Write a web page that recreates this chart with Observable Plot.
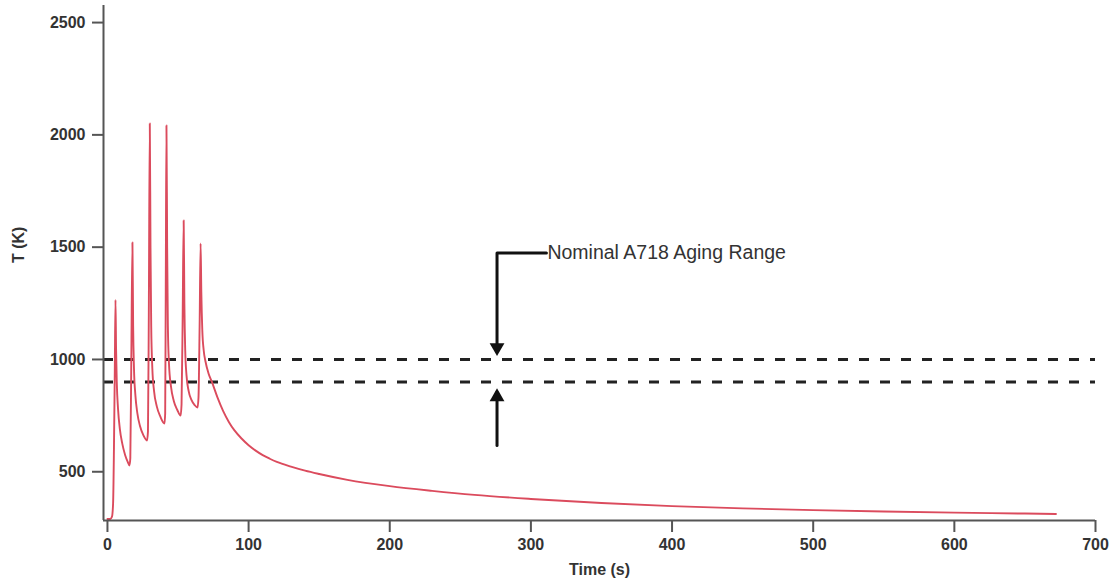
<!DOCTYPE html>
<html>
<head>
<meta charset="utf-8">
<script src="https://cdn.jsdelivr.net/npm/d3@7"></script>
<script src="https://cdn.jsdelivr.net/npm/@observablehq/plot@0.6"></script>
<style>
  html, body { margin: 0; padding: 0; background: #fff; }
  #chart { width: 1110px; height: 583px; }
</style>
</head>
<body>
<div id="chart"></div>
<script>
// Time (s)
const times = [
  0, 2, 3.2, 4.0, 4.6, 5.2, 5.7, 6.1, 6.6, 7.5, 8.8, 10.5, 12.5, 14.5, 15.6,
  16.2, 16.9, 17.7, 18.2, 18.8, 19.8, 21.2, 23, 25.5, 28,
  28.7, 29.3, 30, 30.5, 31, 31.8, 33, 35, 37.5, 40.4,
  40.9, 41.3, 41.8, 42.3, 42.8, 43.6, 45, 47, 49.5, 51.8,
  52.5, 53.3, 54, 54.5, 55.1, 56, 57.5, 59.5, 61.8, 63.8,
  64.5, 65.3, 66, 66.5, 67.2, 68.2, 69.5, 71.5, 74, 78, 82, 86, 90, 95,
  100, 105, 110, 115, 120, 130, 140, 150, 170, 200, 230, 260, 300, 350, 400, 450,
  500, 550, 600, 650, 672
];
// Temperature T (K)
const temps = [
  290, 290, 300, 360, 600, 950, 1265, 1050, 900, 780, 690, 625, 575, 542, 528,
  560, 1000, 1521, 1150, 960, 840, 760, 705, 662, 639,
  680, 1200, 2051, 1500, 1150, 960, 860, 790, 745, 715,
  760, 1300, 2042, 1500, 1150, 980, 880, 815, 775, 750,
  800, 1200, 1619, 1250, 1040, 930, 860, 820, 797, 786,
  830, 1150, 1516, 1300, 1130, 1040, 990, 940, 900, 830, 770, 722, 684, 648,
  618, 594, 574, 558, 544, 523, 505, 490, 464, 436, 415, 397, 379, 361, 347, 337,
  329, 323, 318, 314, 312
];

const xTicks = [0, 100, 200, 300, 400, 500, 600, 700];
const yTicks = [500, 1000, 1500, 2000, 2500];

const rangeHigh = 1000;   // upper bound of aging range
const rangeLow = 900;     // lower bound of aging range
const annotationText = "Nominal A718 Aging Range";
const annotationTime = 276;
const annotationLabelTime = 311;
const annotationTop = 1474;
const annotationBottom = 617;

const xLabel = "Time (s)";
const yLabel = "T (K)";

const data = times.map((t, i) => ({t, T: temps[i]}));

const font = "'Liberation Sans', Arial, sans-serif";
const axisColor = "#555";
const textColor = "#333";

const chart = Plot.plot({
  width: 1110,
  height: 583,
  marginLeft: 103,
  marginRight: 15,
  marginTop: 5,
  marginBottom: 63,
  style: {fontFamily: font, background: "#fff"},
  x: {domain: [-2.8, 700], label: null},
  y: {domain: [283, 2576], label: null},
  marks: [
    // aging range dashed lines
    Plot.ruleY([rangeHigh, rangeLow], {stroke: "#222", strokeWidth: 3, strokeDasharray: "10,11"}),
    // temperature curve
    Plot.line(data, {x: "t", y: "T", stroke: "#db4b5d", strokeWidth: 1.9, curve: "monotone-x"}),
    // annotation callout
    Plot.line([[annotationLabelTime, annotationTop], [annotationTime, annotationTop], [annotationTime, rangeHigh + 45]],
      {x: d => d[0], y: d => d[1], stroke: "#111", strokeWidth: 3}),
    Plot.dot([[annotationTime, rangeHigh]], {x: d => d[0], y: d => d[1], symbol: "triangle", r: 5.5, rotate: 180, fill: "#111", dy: -12}),
    Plot.line([[annotationTime, annotationBottom], [annotationTime, rangeLow - 45]],
      {x: d => d[0], y: d => d[1], stroke: "#111", strokeWidth: 3}),
    Plot.dot([[annotationTime, rangeLow]], {x: d => d[0], y: d => d[1], symbol: "triangle", r: 5.5, fill: "#111", dy: 15}),
    Plot.text([annotationText], {x: annotationLabelTime, y: annotationTop, text: d => d, textAnchor: "start", fontSize: 19.5, fill: textColor, dx: 1}),
    // axes lines
    Plot.ruleY([283], {stroke: axisColor, strokeWidth: 2}),
    Plot.ruleX([-2.8], {stroke: axisColor, strokeWidth: 2}),
    Plot.axisX({ticks: xTicks, tickFormat: d3.format("d"), tickSize: 12, tickPadding: 6, fontSize: 16, fontWeight: "bold", color: textColor, stroke: axisColor, strokeWidth: 2, label: null}),
    Plot.axisY({ticks: yTicks, tickFormat: d3.format("d"), tickSize: 11, tickPadding: 7, fontSize: 16, fontWeight: "bold", color: textColor, stroke: axisColor, strokeWidth: 2, label: null}),
    Plot.text([xLabel], {frameAnchor: "bottom", dy: 54, text: d => d, fontSize: 16, fontWeight: "bold", fill: textColor}),
    Plot.text([yLabel], {frameAnchor: "left", dx: -85, text: d => d, rotate: -90, fontSize: 16, fontWeight: "bold", fill: textColor})
  ]
});

document.getElementById("chart").appendChild(chart);
</script>
</body>
</html>
